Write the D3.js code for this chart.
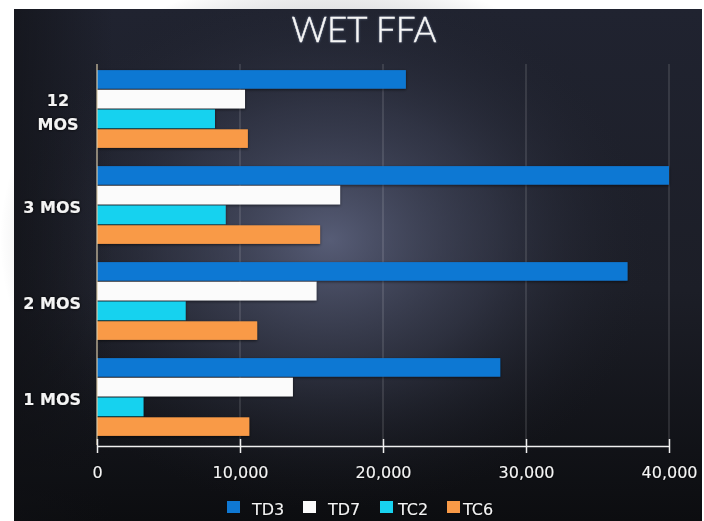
<!DOCTYPE html>
<html>
<head>
<meta charset="utf-8">
<script src="https://cdn.jsdelivr.net/npm/d3@7/dist/d3.min.js"></script>
<style>
  html, body { margin: 0; padding: 0; background: #ffffff; }
  svg { display: block; }
</style>
</head>
<body>
<svg id="chart" width="704" height="521"></svg>
<script>
// Categories, top to bottom
const categories = ["12 MOS", "3 MOS", "2 MOS", "1 MOS"];
const seriesNames = ["TD3", "TD7", "TC2", "TC6"];
const seriesColors = ["#0f78d3", "#fbfbfb", "#18d2ef", "#f99a47"];

// Values per series, in category order
const td3 = [21600, 40000, 37100, 28200];
const td7 = [10350, 17000, 15350, 13700];
const tc2 = [8250, 9000, 6200, 3250];
const tc6 = [10550, 15600, 11200, 10650];
const seriesValues = [td3, td7, tc2, tc6];

const xTicks = [0, 10000, 20000, 30000, 40000];

const svg = d3.select("#chart");
const panel = { x: 14, y: 9, w: 688, h: 512 };
const plot = { left: 97, right: 669, top: 61, bottom: 445 };

const defs = svg.append("defs");
const lin = defs.append("linearGradient").attr("id", "bgLin")
  .attr("x1", 0).attr("y1", 0).attr("x2", 0).attr("y2", 1);
lin.append("stop").attr("offset", "0%").attr("stop-color", "#202330");
lin.append("stop").attr("offset", "55%").attr("stop-color", "#1c1e27");
lin.append("stop").attr("offset", "100%").attr("stop-color", "#0c0d10");

const rad = defs.append("radialGradient").attr("id", "bgRad")
  .attr("cx", 0.5).attr("cy", 0.5).attr("r", 0.5)
  .attr("gradientUnits", "objectBoundingBox");
rad.append("stop").attr("offset", "0%").attr("stop-color", "#6a7190").attr("stop-opacity", 0.75);
rad.append("stop").attr("offset", "50%").attr("stop-color", "#454a60").attr("stop-opacity", 0.45);
rad.append("stop").attr("offset", "100%").attr("stop-color", "#1c1e27").attr("stop-opacity", 0);

const shadow = defs.append("filter").attr("id", "barShadow")
  .attr("x", "-5%").attr("y", "-40%").attr("width", "110%").attr("height", "180%");
shadow.append("feDropShadow").attr("dx", 0).attr("dy", 1).attr("stdDeviation", 1.5)
  .attr("flood-color", "#000").attr("flood-opacity", 0.6);

const textGlow = defs.append("filter").attr("id", "textGlow")
  .attr("x", "-20%").attr("y", "-40%").attr("width", "140%").attr("height", "180%");
textGlow.append("feDropShadow").attr("dx", 0).attr("dy", 0).attr("stdDeviation", 1.5)
  .attr("flood-color", "#000").attr("flood-opacity", 0.9);

const titleGlow = defs.append("filter").attr("id", "titleGlow")
  .attr("x", "-10%").attr("y", "-30%").attr("width", "120%").attr("height", "160%");
titleGlow.append("feDropShadow").attr("dx", 0).attr("dy", 0).attr("stdDeviation", 1)
  .attr("flood-color", "#9fb4d8").attr("flood-opacity", 0.5);

// Background panel
svg.append("rect").attr("x", panel.x).attr("y", panel.y)
  .attr("width", panel.w).attr("height", panel.h).attr("fill", "url(#bgLin)");
svg.append("ellipse").attr("cx", 330).attr("cy", 240).attr("rx", 330).attr("ry", 270)
  .attr("fill", "url(#bgRad)");
// darker strip behind the category labels
const leftShade = defs.append("linearGradient").attr("id", "leftShade")
  .attr("x1", 0).attr("y1", 0).attr("x2", 1).attr("y2", 0);
leftShade.append("stop").attr("offset", "0%").attr("stop-color", "#0f1014").attr("stop-opacity", 0.6);
leftShade.append("stop").attr("offset", "100%").attr("stop-color", "#0f1014").attr("stop-opacity", 0);
svg.append("rect").attr("x", panel.x).attr("y", panel.y).attr("width", 100).attr("height", panel.h)
  .attr("fill", "url(#leftShade)");

// Title
svg.append("text").attr("x", 364).attr("y", 42).attr("text-anchor", "middle")
  .attr("font-family", "Lato, 'Open Sans', sans-serif").attr("font-weight", 300)
  .attr("font-size", 35).attr("fill", "#f6f6f6").attr("stroke", "#f6f6f6")
  .attr("stroke-width", 0.4).attr("filter", "url(#titleGlow)")
  .text("WET FFA");

// Scales
const x = d3.scaleLinear().domain([0, 40000]).range([plot.left, plot.right]);
const y0 = d3.scaleBand().domain(categories).range([plot.top, plot.bottom])
  .paddingInner(0.19).paddingOuter(0.095);
const y1 = d3.scaleBand().domain(seriesNames).range([0, y0.bandwidth()]).paddingInner(0.06);

// Vertical gridlines
svg.append("g").selectAll("line").data(xTicks.slice(1)).join("line")
  .attr("x1", d => x(d)).attr("x2", d => x(d))
  .attr("y1", plot.top + 3).attr("y2", plot.bottom)
  .attr("stroke", "#ffffff").attr("stroke-opacity", 0.22).attr("stroke-width", 1);

// Bars
const rows = [];
categories.forEach((c, i) => seriesNames.forEach((s, j) =>
  rows.push({ cat: c, series: s, value: seriesValues[j][i], color: seriesColors[j] })));

svg.append("g").attr("filter", "url(#barShadow)")
  .selectAll("rect").data(rows).join("rect")
  .attr("x", x(0))
  .attr("y", d => y0(d.cat) + y1(d.series))
  .attr("width", d => x(d.value) - x(0))
  .attr("height", y1.bandwidth())
  .attr("fill", d => d.color);

// Y axis line
svg.append("line").attr("x1", x(0)).attr("x2", x(0))
  .attr("y1", plot.top + 3).attr("y2", plot.bottom)
  .attr("stroke", "#d8c9a8").attr("stroke-width", 1.2);

// X axis
const xAxis = d3.axisBottom(x).tickValues(xTicks)
  .tickFormat(d3.format(",")).tickSizeInner(0).tickSizeOuter(0).tickPadding(0);
const gx = svg.append("g").attr("transform", `translate(0,${plot.bottom + 1})`).call(xAxis);
gx.select(".domain").attr("stroke", "#f0f0f0").attr("stroke-width", 1.5);
gx.selectAll(".tick line").attr("y1", -7).attr("y2", 7)
  .attr("stroke", "#f0f0f0").attr("stroke-width", 1.5);
gx.selectAll(".tick text").attr("y", 21).attr("dy", "0.71em")
  .attr("fill", "#f4f4f4").attr("font-size", 16)
  .attr("font-family", "'DejaVu Sans', sans-serif")
  .attr("filter", "url(#textGlow)");

// Category labels (the two-line label is centred on itself)
const labelG = svg.append("g").attr("font-family", "'DejaVu Sans', sans-serif")
  .attr("font-weight", "bold").attr("font-size", 16).attr("fill", "#f4f4f4")
  .attr("text-anchor", "end").attr("filter", "url(#textGlow)");
categories.forEach(c => {
  const cy = y0(c) + y0.bandwidth() / 2 + 2;
  const t = labelG.append("text").attr("x", 81);
  if (c === "12 MOS") {
    const parts = c.split(" ");
    t.attr("text-anchor", "middle");
    t.append("tspan").attr("x", 58).attr("y", cy - 11).attr("dy", "0.35em").text(parts[0]);
    t.append("tspan").attr("x", 58).attr("y", cy + 13).attr("dy", "0.35em").text(parts[1]);
  } else {
    t.attr("y", cy).attr("dy", "0.35em").text(c);
  }
});

// Legend
const legendSwatchX = [227, 303, 380, 447];
const legendTextX = [252, 328, 398, 463];
const leg = svg.append("g").attr("font-family", "'DejaVu Sans', sans-serif")
  .attr("font-size", 16).attr("fill", "#f4f4f4");
seriesNames.forEach((s, i) => {
  leg.append("rect").attr("x", legendSwatchX[i]).attr("y", 501).attr("width", 13).attr("height", 12)
    .attr("fill", seriesColors[i]);
  leg.append("text").attr("x", legendTextX[i]).attr("y", 509).attr("dy", "0.35em")
    .attr("filter", "url(#textGlow)").text(s);
});
</script>
</body>
</html>
